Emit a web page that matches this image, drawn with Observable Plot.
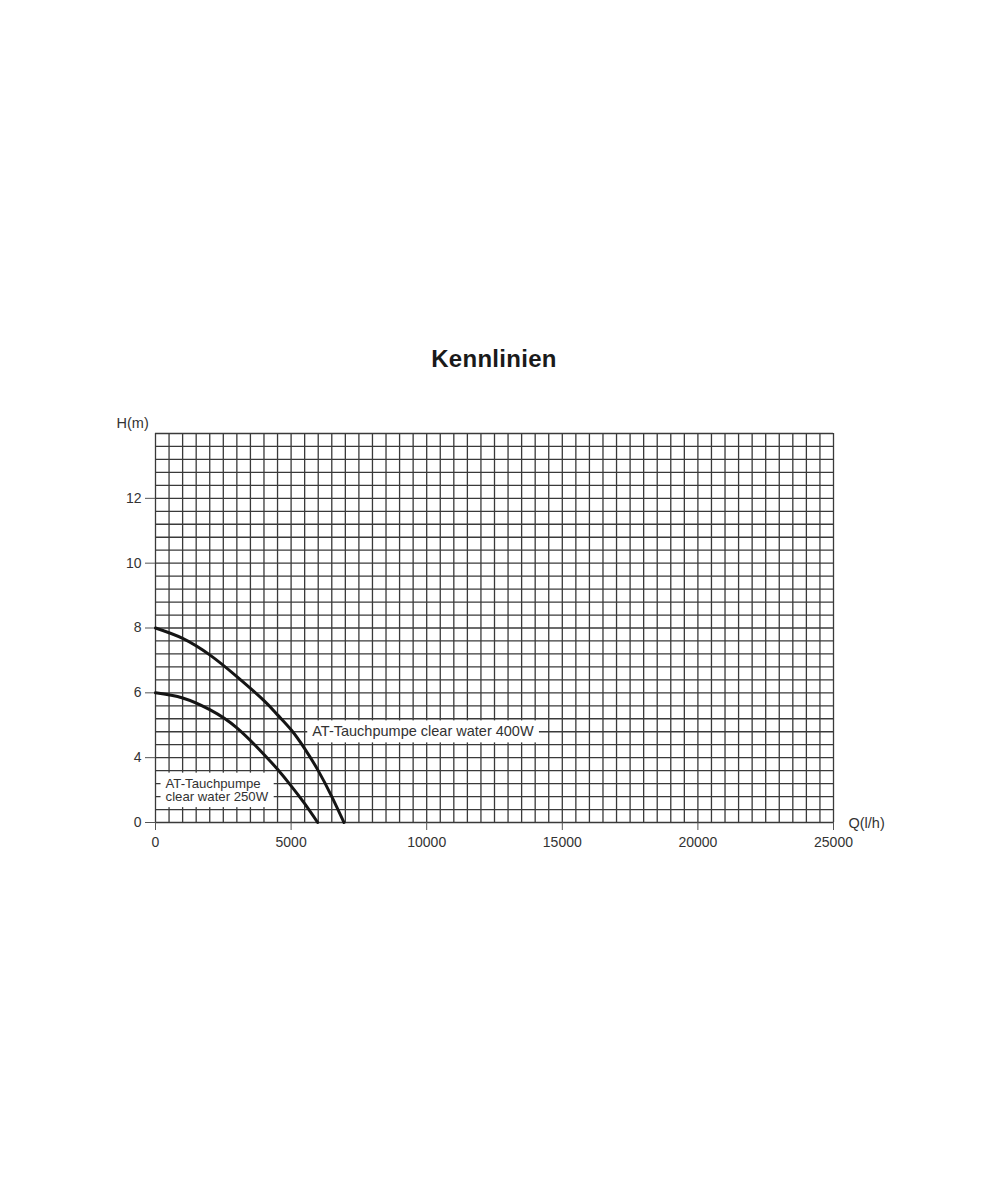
<!DOCTYPE html>
<html>
<head>
<meta charset="utf-8">
<script src="https://cdn.jsdelivr.net/npm/d3@7"></script>
<script src="https://cdn.jsdelivr.net/npm/@observablehq/plot@0.6"></script>
<style>
  html, body { margin: 0; padding: 0; background: #fff; }
  #wrap { position: relative; width: 1000px; height: 1200px; }
  #chart { position: absolute; left: 0; top: 0; z-index: 0; }
  #title { position: absolute; left: 0; width: 988px; top: 347px; line-height: 24px; text-align: center; z-index: 1;
           font-family: "Liberation Sans", Arial, sans-serif; font-weight: bold; font-size: 24px;
           letter-spacing: 0.3px; color: #1a1a1a; }
</style>
</head>
<body>
<div id="wrap">
  <div id="chart"></div>
  <div id="title">Kennlinien</div>
</div>
<script>
// Pump curves: Q (l/h) vs H (grid units; the bottom grid line is labelled "0" in the original)
const q400 = [0, 1000, 2000, 3000, 4000, 4500, 5000, 5500, 6000, 6500, 6950];
const h400 = [8.0, 7.68, 7.17, 6.5, 5.76, 5.32, 4.86, 4.28, 3.6, 2.8, 2.0];
const q250 = [0, 1000, 2000, 3000, 4000, 4500, 5000, 5500, 5980];
const h250 = [6.0, 5.84, 5.48, 4.92, 4.1, 3.64, 3.13, 2.58, 2.0];

// Tick values and labels
const xTicks = [0, 5000, 10000, 15000, 20000, 25000];
const yTicks = [2, 4, 6, 8, 10, 12];
const yTickLabels = ["0", "4", "6", "8", "10", "12"];

// Annotation labels
const labelText = ["AT-Tauchpumpe clear water 400W", "AT-Tauchpumpe\nclear water 250W"];
const labelQ = [5780, 370];
const labelH = [4.8, 3.0];

const series = [
  ...q400.map((q, i) => ({pump: "400W", Q: q, H: h400[i]})),
  ...q250.map((q, i) => ({pump: "250W", Q: q, H: h250[i]}))
];
const labels = labelText.map((t, i) => ({text: t, Q: labelQ[i], H: labelH[i]}));

const gridColor = "#3a3a3a";
const labelColor = "#323232";
const gridX = d3.range(0, 51).map(i => i * 500);
const gridY = d3.range(5, 36).map(i => i * 0.4);

const chart = Plot.plot({
  width: 1000,
  height: 900,
  marginTop: 433,
  marginBottom: 78,
  marginLeft: 155,
  marginRight: 167,
  style: {fontFamily: "'Liberation Sans', Arial, sans-serif", fontSize: "14px", color: "#333", background: "white"},
  x: {domain: [0, 25000]},
  y: {domain: [2, 14]},
  marks: [
    Plot.ruleX(gridX, {stroke: gridColor, strokeWidth: 1.3}),
    Plot.ruleY(gridY, {stroke: gridColor, strokeWidth: 1.3}),
    Plot.axisX({ticks: xTicks, tickSize: 8, tickPadding: 7, tickFormat: d => String(d), label: null, stroke: "#555", fill: "#333", fontSize: 14}),
    Plot.axisY({ticks: yTicks, tickSize: 10, tickPadding: 4, tickFormat: d => yTickLabels[yTicks.indexOf(d)], label: null, stroke: "#555", fill: "#333", fontSize: 14}),
    Plot.line(series, {x: "Q", y: "H", z: "pump", stroke: "#151515", strokeWidth: 3, curve: "natural"}),
    Plot.text(labels.slice(0, 1), {x: "Q", y: "H", text: "text", textAnchor: "start", lineAnchor: "middle", fill: labelColor, fontSize: 14.5}),
    Plot.text(labels.slice(1, 2), {x: "Q", y: "H", text: "text", textAnchor: "start", lineAnchor: "middle", lineHeight: 1.02, fill: labelColor, fontSize: 13.2}),
    Plot.text(["H(m)"], {frameAnchor: "top-left", dx: -39, dy: -10, textAnchor: "start", lineAnchor: "middle", fill: "#333", fontSize: 14.5}),
    Plot.text(["Q(l/h)"], {frameAnchor: "bottom-right", dx: 15, dy: 1, textAnchor: "start", lineAnchor: "middle", fill: "#333", fontSize: 14.5})
  ]
});

document.getElementById("chart").appendChild(chart);

// White boxes behind the curve labels (hide the grid beneath them)
const svgEl = chart.tagName.toLowerCase() === "svg" ? chart : chart.querySelector("svg");
Array.from(svgEl.querySelectorAll("g")).forEach(g => {
  const f = (g.getAttribute("fill") || "").toLowerCase();
  if (f !== labelColor) return;
  Array.from(g.querySelectorAll("text")).forEach(t => {
    const b = t.getBBox();
    const padX = 5, padY = 3;
    const r = document.createElementNS("http://www.w3.org/2000/svg", "rect");
    r.setAttribute("x", b.x - padX);
    r.setAttribute("y", b.y - padY);
    r.setAttribute("width", b.width + 2 * padX);
    r.setAttribute("height", b.height + 2 * padY);
    r.setAttribute("fill", "white");
    const tr = t.getAttribute("transform");
    if (tr) r.setAttribute("transform", tr);
    t.parentNode.insertBefore(r, t);
  });
});
</script>
</body>
</html>
